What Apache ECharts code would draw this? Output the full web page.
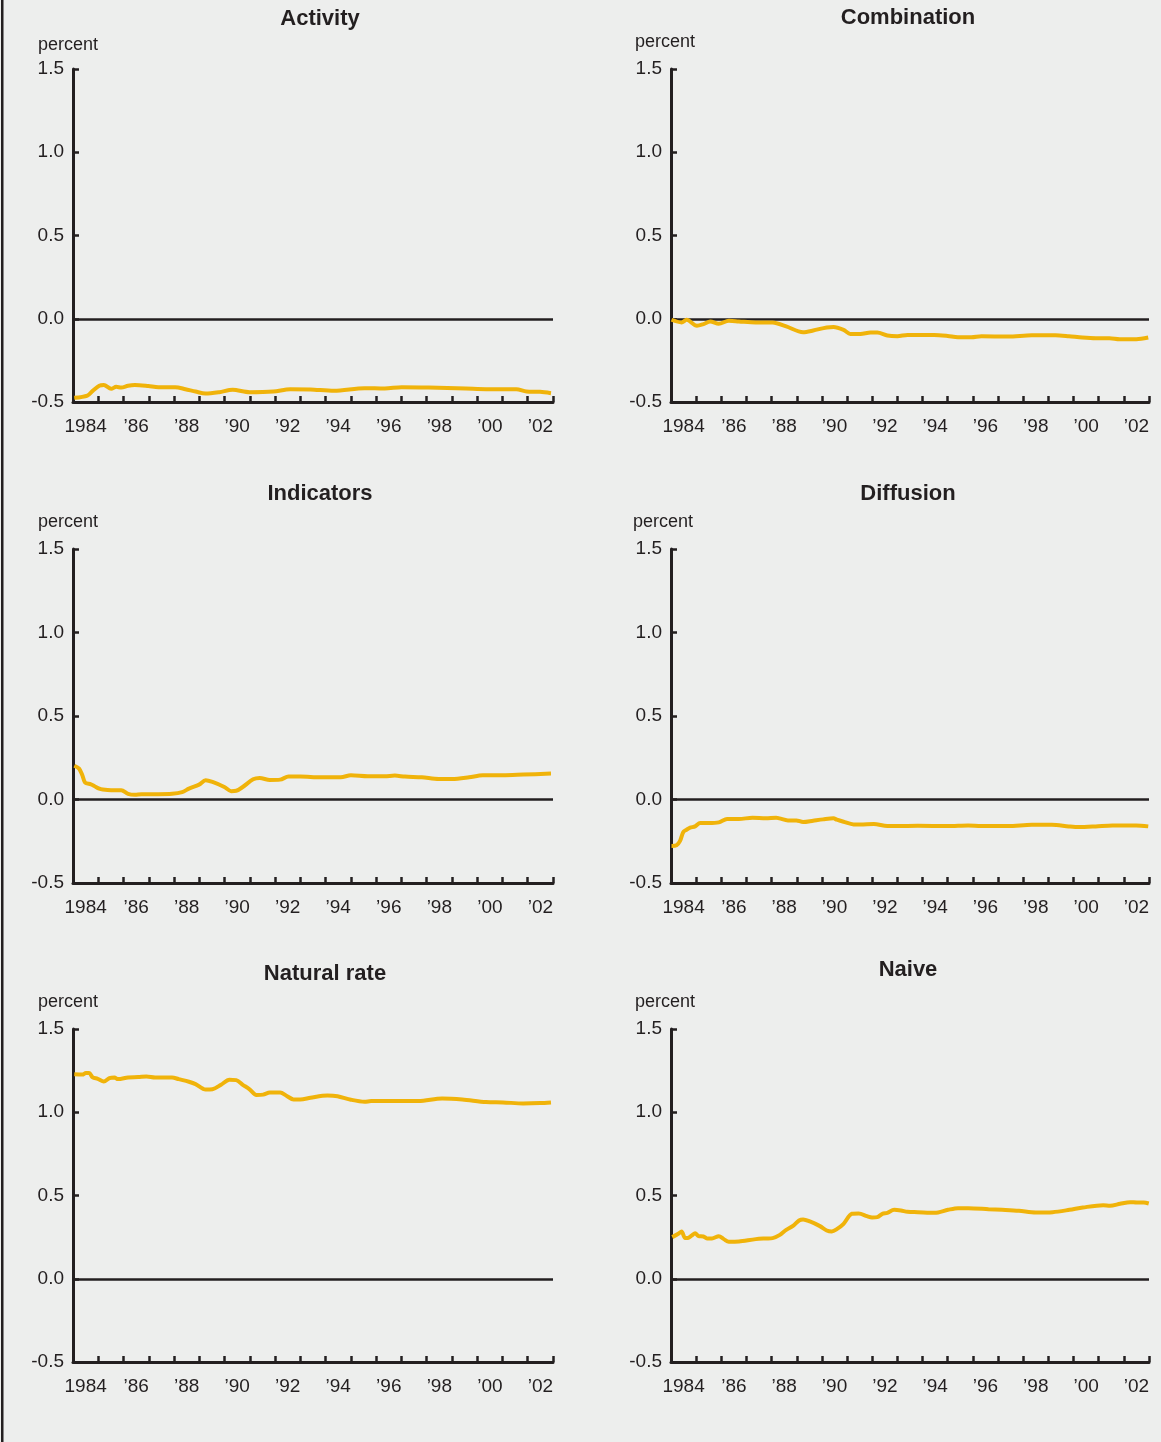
<!DOCTYPE html>
<html>
<head>
<meta charset="utf-8">
<script src="https://cdn.jsdelivr.net/npm/echarts@6/dist/echarts.min.js"></script>
<style>
  html, body { margin: 0; padding: 0; background: #edeeed; }
  #chart { width: 1161px; height: 1442px; }
</style>
</head>
<body>
<div id="chart"></div>
<script>
// 年のカテゴリ (目盛とラベル用)
const years = [];
for (let y = 1984; y <= 2002; y++) years.push(y);
const yTicks = [-0.5, 0.0, 0.5, 1.0, 1.5];

// 各パネルのデータ [年, percent]
const activity = [
  [1984.05, -0.475], [1984.57, -0.461], [1984.78, -0.433], [1985.04, -0.402], [1985.22, -0.398],
  [1985.51, -0.421], [1985.71, -0.409], [1985.91, -0.413], [1986.18, -0.402], [1986.45, -0.398],
  [1986.98, -0.404], [1987.38, -0.411], [1988.05, -0.411], [1988.45, -0.423], [1988.85, -0.437],
  [1989.25, -0.449], [1989.79, -0.441], [1990.32, -0.427], [1990.99, -0.441], [1991.93, -0.437],
  [1992.60, -0.423], [1993.40, -0.425], [1994.33, -0.433], [1995.54, -0.417], [1996.34, -0.419],
  [1997.01, -0.411], [1998.08, -0.413], [1999.55, -0.419], [2000.35, -0.423], [2001.55, -0.423],
  [2001.95, -0.437], [2002.49, -0.439], [2002.92, -0.447]
];
const combination = [
  [1984.02, -0.006], [1984.42, -0.022], [1984.62, -0.006], [1985.03, -0.042], [1985.29, -0.032],
  [1985.56, -0.016], [1985.90, -0.030], [1986.30, -0.012], [1986.70, -0.016], [1987.37, -0.022],
  [1988.04, -0.022], [1988.58, -0.046], [1989.25, -0.081], [1989.65, -0.071], [1990.19, -0.052],
  [1990.46, -0.050], [1990.86, -0.067], [1991.13, -0.091], [1991.53, -0.091], [1991.93, -0.083],
  [1992.20, -0.083], [1992.60, -0.101], [1993.00, -0.105], [1993.40, -0.097], [1994.46, -0.097],
  [1995.00, -0.103], [1995.40, -0.111], [1995.94, -0.111], [1996.34, -0.105], [1997.40, -0.107],
  [1998.34, -0.099], [1999.28, -0.099], [1999.82, -0.105], [2000.35, -0.113], [2000.89, -0.117],
  [2001.43, -0.117], [2001.83, -0.123], [2002.50, -0.123], [2002.97, -0.113]
];
const indicators = [
  [1984.05, 0.202], [1984.24, 0.185], [1984.37, 0.145], [1984.48, 0.101], [1984.71, 0.091],
  [1984.84, 0.081], [1985.04, 0.065], [1985.18, 0.060], [1985.51, 0.056], [1985.91, 0.056],
  [1986.18, 0.034], [1986.45, 0.028], [1986.71, 0.032], [1987.38, 0.032], [1987.92, 0.034],
  [1988.32, 0.044], [1988.59, 0.065], [1988.99, 0.089], [1989.25, 0.115], [1989.52, 0.105],
  [1989.99, 0.075], [1990.26, 0.050], [1990.46, 0.052], [1990.72, 0.075], [1991.13, 0.121],
  [1991.39, 0.129], [1991.79, 0.117], [1992.20, 0.119], [1992.53, 0.137], [1993.00, 0.137],
  [1993.80, 0.133], [1994.60, 0.133], [1995.00, 0.145], [1995.67, 0.139], [1996.34, 0.139],
  [1996.74, 0.143], [1997.14, 0.137], [1997.81, 0.133], [1998.48, 0.123], [1999.01, 0.123],
  [1999.68, 0.133], [2000.22, 0.145], [2001.02, 0.145], [2001.82, 0.149], [2002.92, 0.155]
];
const diffusion = [
  [1984.02, -0.278], [1984.22, -0.274], [1984.36, -0.248], [1984.49, -0.194], [1984.62, -0.181],
  [1984.76, -0.169], [1984.96, -0.161], [1985.16, -0.141], [1985.50, -0.141], [1985.90, -0.137],
  [1986.23, -0.117], [1986.70, -0.117], [1987.24, -0.109], [1987.77, -0.113], [1988.18, -0.109],
  [1988.31, -0.113], [1988.65, -0.125], [1988.98, -0.125], [1989.25, -0.135], [1989.65, -0.127],
  [1990.05, -0.119], [1990.46, -0.113], [1990.59, -0.121], [1990.86, -0.133], [1991.26, -0.149],
  [1991.53, -0.149], [1992.06, -0.147], [1992.60, -0.159], [1993.00, -0.159], [1993.81, -0.157],
  [1995.01, -0.159], [1995.81, -0.155], [1996.33, -0.159], [1997.40, -0.159], [1998.34, -0.151],
  [1999.14, -0.151], [1999.81, -0.161], [2000.21, -0.165], [2000.88, -0.161], [2001.55, -0.155],
  [2002.49, -0.155], [2002.97, -0.161]
];
const naturalRate = [
  [1984.05, 1.228], [1984.37, 1.226], [1984.51, 1.236], [1984.64, 1.236], [1984.78, 1.209],
  [1984.98, 1.201], [1985.22, 1.185], [1985.44, 1.205], [1985.64, 1.209], [1985.78, 1.199],
  [1986.18, 1.209], [1986.58, 1.211], [1986.91, 1.215], [1987.25, 1.209], [1987.92, 1.209],
  [1988.18, 1.199], [1988.59, 1.183], [1988.85, 1.169], [1989.25, 1.136], [1989.52, 1.138],
  [1989.86, 1.165], [1990.19, 1.195], [1990.46, 1.193], [1990.72, 1.165], [1990.99, 1.138],
  [1991.26, 1.104], [1991.53, 1.106], [1991.79, 1.118], [1992.20, 1.118], [1992.46, 1.098],
  [1992.73, 1.077], [1993.00, 1.077], [1993.40, 1.087], [1994.07, 1.100], [1994.47, 1.096],
  [1995.00, 1.075], [1995.54, 1.063], [1995.80, 1.067], [1996.47, 1.067], [1997.68, 1.067],
  [1998.61, 1.083], [1999.41, 1.077], [2000.35, 1.061], [2001.02, 1.059], [2001.82, 1.053],
  [2002.49, 1.055], [2002.92, 1.059]
];
const naive = [
  [1984.05, 0.250], [1984.29, 0.270], [1984.42, 0.284], [1984.56, 0.244], [1984.69, 0.246],
  [1984.83, 0.260], [1984.96, 0.274], [1985.09, 0.256], [1985.29, 0.254], [1985.43, 0.242],
  [1985.63, 0.242], [1985.90, 0.256], [1986.10, 0.238], [1986.30, 0.222], [1986.70, 0.224],
  [1987.37, 0.238], [1987.77, 0.242], [1988.04, 0.244], [1988.31, 0.262], [1988.58, 0.294],
  [1988.85, 0.318], [1989.09, 0.350], [1989.25, 0.356], [1989.52, 0.344], [1989.92, 0.316],
  [1990.19, 0.290], [1990.39, 0.284], [1990.59, 0.298], [1990.86, 0.330], [1991.19, 0.390],
  [1991.46, 0.392], [1991.79, 0.376], [1991.99, 0.368], [1992.20, 0.370], [1992.40, 0.390],
  [1992.60, 0.396], [1992.87, 0.414], [1993.14, 0.410], [1993.40, 0.402], [1993.81, 0.400],
  [1994.48, 0.396], [1995.01, 0.414], [1995.41, 0.424], [1995.82, 0.424], [1996.62, 0.418],
  [1997.16, 0.414], [1997.83, 0.408], [1998.50, 0.398], [1999.17, 0.400], [1999.84, 0.414],
  [2000.37, 0.428], [2001.18, 0.442], [2001.45, 0.438], [2001.85, 0.450], [2002.25, 0.460],
  [2002.52, 0.458], [2002.79, 0.458], [2002.99, 0.452]
];

const panels = [
  { name: 'Activity',     data: activity,    left: 73,  right: 608, top: 69,   height: 333, cx: 320, ty: 19,  px: 38,  py: 45 },
  { name: 'Combination',  data: combination, left: 671, right: 12,  top: 69,   height: 333, cx: 908, ty: 18,  px: 635, py: 42 },
  { name: 'Indicators',   data: indicators,  left: 73,  right: 608, top: 549,  height: 334, cx: 320, ty: 494, px: 38,  py: 522 },
  { name: 'Diffusion',    data: diffusion,   left: 671, right: 12,  top: 549,  height: 334, cx: 908, ty: 494, px: 633, py: 522 },
  { name: 'Natural rate', data: naturalRate, left: 73,  right: 608, top: 1029, height: 333, cx: 325, ty: 974, px: 38,  py: 1002 },
  { name: 'Naive',        data: naive,       left: 671, right: 12,  top: 1029, height: 333, cx: 908, ty: 970, px: 635, py: 1002 }
];

const ink = '#231f20';
const lineColor = '#f0b30a';
const font = '"Liberation Sans", Arial, sans-serif';

const chart = echarts.init(document.getElementById('chart'));

const grid = [], xAxis = [], yAxis = [], series = [], graphic = [];

// 左端の縦線
graphic.push({
  type: 'rect', shape: { x: 1, y: 0, width: 2.5, height: 1442 },
  style: { fill: ink }, silent: true
});

panels.forEach((p, i) => {
  grid.push({ left: p.left, right: p.right, top: p.top, height: p.height, containLabel: false });

  // カテゴリ軸 (目盛とラベル)
  xAxis.push({
    type: 'category',
    gridIndex: i,
    data: years,
    boundaryGap: true,
    axisLine: { show: true, onZero: false, lineStyle: { color: ink, width: 3 } },
    axisTick: { show: true, inside: true, length: 6, interval: 0, lineStyle: { color: ink, width: 2.5 } },
    axisLabel: {
      interval: 1,
      margin: 15,
      color: ink,
      fontSize: 19,
      fontFamily: font,
      formatter: (v) => (v === '1984' ? '1984' : '\u2019' + String(v).slice(2))
    },
    splitLine: { show: false }
  });
  // データ用の数値軸 (非表示)
  xAxis.push({
    type: 'value',
    gridIndex: i,
    min: 1984,
    max: 2003,
    show: false
  });

  yAxis.push({
    type: 'value',
    gridIndex: i,
    min: -0.5,
    max: 1.5,
    interval: 0.5,
    axisLine: { show: true, onZero: false, lineStyle: { color: ink, width: 3 } },
    axisTick: { show: true, inside: true, length: 6, lineStyle: { color: ink, width: 2.5 } },
    axisLabel: {
      color: ink,
      fontSize: 19,
      fontFamily: font,
      margin: 9,
      formatter: (v) => v.toFixed(1)
    },
    splitLine: { show: false }
  });

  series.push({
    type: 'line',
    xAxisIndex: i * 2 + 1,
    yAxisIndex: i,
    data: p.data,
    showSymbol: false,
    smooth: 0.3,
    lineStyle: { color: lineColor, width: 4 },
    z: 3,
    markLine: {
      silent: true,
      symbol: 'none',
      label: { show: false },
      lineStyle: { color: ink, width: 2.5, type: 'solid' },
      data: [{ yAxis: 0 }],
      z: 2
    }
  });

  graphic.push({
    type: 'text', x: p.cx, y: p.ty,
    style: { text: p.name, fill: ink, font: 'bold 22px ' + font, textAlign: 'center', textVerticalAlign: 'middle' }
  });
  graphic.push({
    type: 'text', x: p.px, y: p.py,
    style: { text: 'percent', fill: ink, font: '18px ' + font, textAlign: 'left', textVerticalAlign: 'middle' }
  });
});

chart.setOption({
  backgroundColor: '#edeeed',
  animation: false,
  grid,
  xAxis,
  yAxis,
  series,
  graphic
});
</script>
</body>
</html>
